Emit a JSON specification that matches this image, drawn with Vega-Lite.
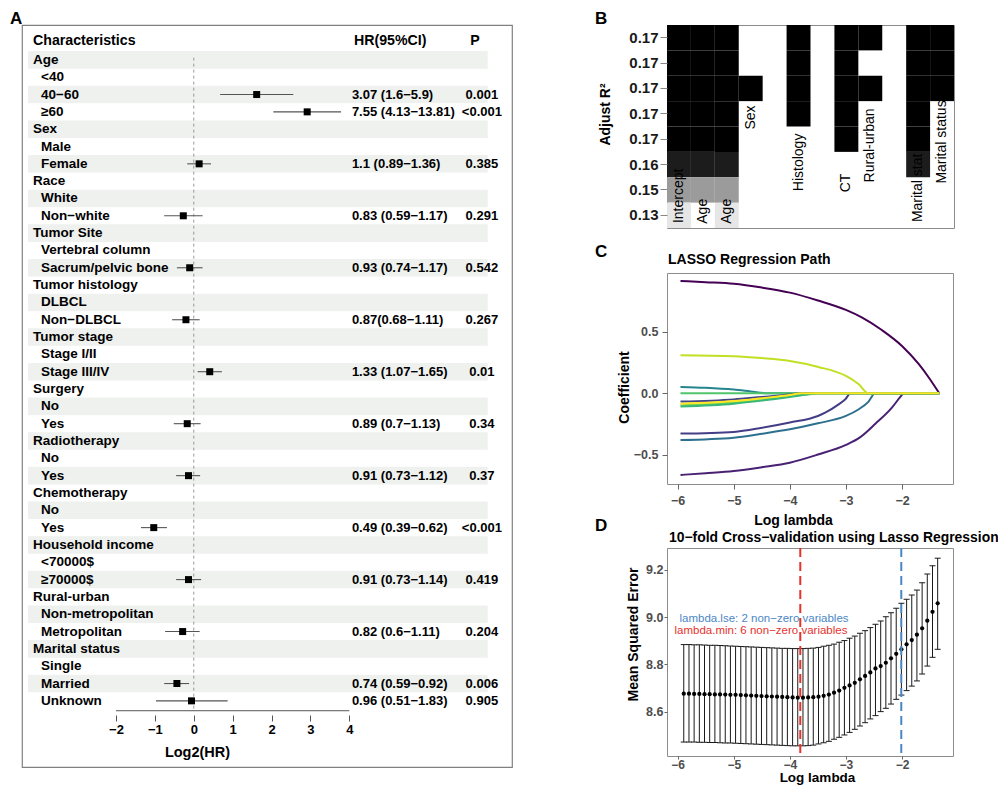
{
 "$schema": "https://vega.github.io/schema/vega-lite/v6.json",
 "background": "white",
 "padding": {"left": 9, "top": 9, "right": 0, "bottom": 0},
 "config": {
  "font": "Liberation Sans",
  "view": {"stroke": "#8c8c8c", "strokeWidth": 1},
  "axis": {"grid": false, "domain": false, "labelFont": "Liberation Sans", "titleFont": "Liberation Sans"},
  "title": {"font": "Liberation Sans"}
 },
 "datasets": {
  "forest": [
   {"row":2,"label":"Age","lvl":0},
   {"row":3,"label":"<40","lvl":1},
   {"row":4,"label":"40−60","lvl":1,"est":1.618,"lo":0.678,"hi":2.561,"hr":"3.07 (1.6−5.9)","p":"0.001"},
   {"row":5,"label":"≥60","lvl":1,"est":2.917,"lo":2.046,"hi":3.788,"hr":"7.55 (4.13−13.81)","p":"<0.001"},
   {"row":6,"label":"Sex","lvl":0},
   {"row":7,"label":"Male","lvl":1},
   {"row":8,"label":"Female","lvl":1,"est":0.138,"lo":-0.168,"hi":0.444,"hr":"1.1 (0.89−1.36)","p":"0.385"},
   {"row":9,"label":"Race","lvl":0},
   {"row":10,"label":"White","lvl":1},
   {"row":11,"label":"Non−white","lvl":1,"est":-0.269,"lo":-0.761,"hi":0.227,"hr":"0.83 (0.59−1.17)","p":"0.291"},
   {"row":12,"label":"Tumor Site","lvl":0},
   {"row":13,"label":"Vertebral column","lvl":1},
   {"row":14,"label":"Sacrum/pelvic bone","lvl":1,"est":-0.105,"lo":-0.434,"hi":0.227,"hr":"0.93 (0.74−1.17)","p":"0.542"},
   {"row":15,"label":"Tumor histology","lvl":0},
   {"row":16,"label":"DLBCL","lvl":1},
   {"row":17,"label":"Non−DLBCL","lvl":1,"est":-0.201,"lo":-0.556,"hi":0.151,"hr":"0.87(0.68−1.11)","p":"0.267"},
   {"row":18,"label":"Tumor stage","lvl":0},
   {"row":19,"label":"Stage I/II","lvl":1},
   {"row":20,"label":"Stage III/IV","lvl":1,"est":0.411,"lo":0.098,"hi":0.723,"hr":"1.33 (1.07−1.65)","p":"0.01"},
   {"row":21,"label":"Surgery","lvl":0},
   {"row":22,"label":"No","lvl":1},
   {"row":23,"label":"Yes","lvl":1,"est":-0.168,"lo":-0.515,"hi":0.176,"hr":"0.89 (0.7−1.13)","p":"0.34"},
   {"row":24,"label":"Radiotherapy","lvl":0},
   {"row":25,"label":"No","lvl":1},
   {"row":26,"label":"Yes","lvl":1,"est":-0.136,"lo":-0.454,"hi":0.164,"hr":"0.91 (0.73−1.12)","p":"0.37"},
   {"row":27,"label":"Chemotherapy","lvl":0},
   {"row":28,"label":"No","lvl":1},
   {"row":29,"label":"Yes","lvl":1,"est":-1.029,"lo":-1.358,"hi":-0.69,"hr":"0.49 (0.39−0.62)","p":"<0.001"},
   {"row":30,"label":"Household income","lvl":0},
   {"row":31,"label":"<70000$","lvl":1},
   {"row":32,"label":"≥70000$","lvl":1,"est":-0.136,"lo":-0.454,"hi":0.189,"hr":"0.91 (0.73−1.14)","p":"0.419"},
   {"row":33,"label":"Rural-urban","lvl":0},
   {"row":34,"label":"Non-metropolitan","lvl":1},
   {"row":35,"label":"Metropolitan","lvl":1,"est":-0.286,"lo":-0.737,"hi":0.151,"hr":"0.82 (0.6−1.11)","p":"0.204"},
   {"row":36,"label":"Marital status","lvl":0},
   {"row":37,"label":"Single","lvl":1},
   {"row":38,"label":"Married","lvl":1,"est":-0.434,"lo":-0.761,"hi":-0.12,"hr":"0.74 (0.59−0.92)","p":"0.006"},
   {"row":39,"label":"Unknown","lvl":1,"est":-0.059,"lo":-0.971,"hi":0.872,"hr":"0.96 (0.51−1.83)","p":"0.905"}
  ],
  "cells": [
   {"col":1,"row":1,"r2":"0.17"},{"col":1,"row":2,"r2":"0.17"},{"col":1,"row":3,"r2":"0.17"},{"col":1,"row":4,"r2":"0.17"},{"col":1,"row":5,"r2":"0.17"},{"col":1,"row":6,"r2":"0.16"},{"col":1,"row":7,"r2":"0.15"},{"col":1,"row":8,"r2":"0.13"},
   {"col":2,"row":1,"r2":"0.17"},{"col":2,"row":2,"r2":"0.17"},{"col":2,"row":3,"r2":"0.17"},{"col":2,"row":4,"r2":"0.17"},{"col":2,"row":5,"r2":"0.17"},{"col":2,"row":6,"r2":"0.16"},{"col":2,"row":7,"r2":"0.15"},
   {"col":3,"row":1,"r2":"0.17"},{"col":3,"row":2,"r2":"0.17"},{"col":3,"row":3,"r2":"0.17"},{"col":3,"row":4,"r2":"0.17"},{"col":3,"row":5,"r2":"0.17"},{"col":3,"row":6,"r2":"0.16"},{"col":3,"row":7,"r2":"0.15"},{"col":3,"row":8,"r2":"0.13"},
   {"col":4,"row":3,"r2":"0.17"},
   {"col":6,"row":1,"r2":"0.17"},{"col":6,"row":2,"r2":"0.17"},{"col":6,"row":3,"r2":"0.17"},{"col":6,"row":4,"r2":"0.17"},
   {"col":8,"row":1,"r2":"0.17"},{"col":8,"row":2,"r2":"0.17"},{"col":8,"row":3,"r2":"0.17"},{"col":8,"row":4,"r2":"0.17"},{"col":8,"row":5,"r2":"0.17"},
   {"col":9,"row":1,"r2":"0.17"},{"col":9,"row":3,"r2":"0.17"},
   {"col":11,"row":1,"r2":"0.17"},{"col":11,"row":2,"r2":"0.17"},{"col":11,"row":3,"r2":"0.17"},{"col":11,"row":4,"r2":"0.17"},{"col":11,"row":5,"r2":"0.17"},{"col":11,"row":6,"r2":"0.16"},
   {"col":12,"row":1,"r2":"0.17"},{"col":12,"row":2,"r2":"0.17"},{"col":12,"row":3,"r2":"0.17"}
  ],
  "blabels": [
   {"col":1,"name":"Intercept","top":5.66},
   {"col":2,"name":"Age","top":6.85},
   {"col":3,"name":"Age","top":6.85},
   {"col":4,"name":"Sex","top":3.17},
   {"col":6,"name":"Histology","top":4.28},
   {"col":8,"name":"CT","top":5.86},
   {"col":9,"name":"Rural-urban","top":3.29},
   {"col":11,"name":"Marital stat","top":5.07},
   {"col":12,"name":"Marital status","top":2.97}
  ],
  "path": [
   {"v":"s01","lam":-5.95,"coef":0.916},{"v":"s01","lam":-5.5,"coef":0.906},{"v":"s01","lam":-5,"coef":0.893},{"v":"s01","lam":-4.5,"coef":0.862},{"v":"s01","lam":-4,"coef":0.821},{"v":"s01","lam":-3.5,"coef":0.757},{"v":"s01","lam":-3,"coef":0.68},{"v":"s01","lam":-2.71,"coef":0.617},{"v":"s01","lam":-2.36,"coef":0.516},{"v":"s01","lam":-2,"coef":0.386},{"v":"s01","lam":-1.7,"coef":0.237},{"v":"s01","lam":-1.52,"coef":0.127},{"v":"s01","lam":-1.335,"coef":0},
   {"v":"s02","lam":-5.95,"coef":-0.666},{"v":"s02","lam":-5.5,"coef":-0.652},{"v":"s02","lam":-5,"coef":-0.634},{"v":"s02","lam":-4.5,"coef":-0.603},{"v":"s02","lam":-4,"coef":-0.566},{"v":"s02","lam":-3.5,"coef":-0.5},{"v":"s02","lam":-3,"coef":-0.421},{"v":"s02","lam":-2.75,"coef":-0.36},{"v":"s02","lam":-2.47,"coef":-0.247},{"v":"s02","lam":-2.18,"coef":-0.117},{"v":"s02","lam":-2.03,"coef":-0.03},{"v":"s02","lam":-1.97,"coef":0},{"v":"s02","lam":-1.335,"coef":0},
   {"v":"s03","lam":-5.95,"coef":-0.329},{"v":"s03","lam":-5,"coef":-0.315},{"v":"s03","lam":-4.5,"coef":-0.282},{"v":"s03","lam":-4,"coef":-0.239},{"v":"s03","lam":-3.5,"coef":-0.185},{"v":"s03","lam":-3.37,"coef":-0.158},{"v":"s03","lam":-3.13,"coef":-0.09},{"v":"s03","lam":-3.01,"coef":-0.049},{"v":"s03","lam":-2.92,"coef":0},{"v":"s03","lam":-1.335,"coef":0},
   {"v":"s04","lam":-5.95,"coef":-0.381},{"v":"s04","lam":-5,"coef":-0.362},{"v":"s04","lam":-4.5,"coef":-0.33},{"v":"s04","lam":-4,"coef":-0.294},{"v":"s04","lam":-3.5,"coef":-0.245},{"v":"s04","lam":-3,"coef":-0.185},{"v":"s04","lam":-2.77,"coef":-0.13},{"v":"s04","lam":-2.6,"coef":-0.07},{"v":"s04","lam":-2.48,"coef":0},{"v":"s04","lam":-1.335,"coef":0},
   {"v":"s05","lam":-5.95,"coef":0.31},{"v":"s05","lam":-5,"coef":0.302},{"v":"s05","lam":-4.5,"coef":0.287},{"v":"s05","lam":-4,"coef":0.264},{"v":"s05","lam":-3.49,"coef":0.215},{"v":"s05","lam":-3,"coef":0.141},{"v":"s05","lam":-2.77,"coef":0.073},{"v":"s05","lam":-2.6,"coef":0},{"v":"s05","lam":-1.335,"coef":0},
   {"v":"s06","lam":-5.95,"coef":0.052},{"v":"s06","lam":-5.5,"coef":0.045},{"v":"s06","lam":-5,"coef":0.03},{"v":"s06","lam":-4.7,"coef":0.015},{"v":"s06","lam":-4.4,"coef":0},{"v":"s06","lam":-1.335,"coef":0},
   {"v":"s07","lam":-5.95,"coef":0},{"v":"s07","lam":-1.335,"coef":0},
   {"v":"s08","lam":-5.95,"coef":-0.068},{"v":"s08","lam":-5,"coef":-0.05},{"v":"s08","lam":-4.5,"coef":-0.03},{"v":"s08","lam":-4,"coef":-0.01},{"v":"s08","lam":-3.8,"coef":0},{"v":"s08","lam":-1.335,"coef":0},
   {"v":"s09","lam":-5.95,"coef":-0.098},{"v":"s09","lam":-5,"coef":-0.075},{"v":"s09","lam":-4.5,"coef":-0.052},{"v":"s09","lam":-4,"coef":-0.025},{"v":"s09","lam":-3.6,"coef":-0.005},{"v":"s09","lam":-3.5,"coef":0},{"v":"s09","lam":-1.335,"coef":0},
   {"v":"s10","lam":-5.95,"coef":-0.108},{"v":"s10","lam":-5,"coef":-0.085},{"v":"s10","lam":-4.5,"coef":-0.06},{"v":"s10","lam":-4,"coef":-0.03},{"v":"s10","lam":-3.7,"coef":-0.01},{"v":"s10","lam":-3.5,"coef":0},{"v":"s10","lam":-1.335,"coef":0},
   {"v":"s11","lam":-5.95,"coef":-0.085},{"v":"s11","lam":-5,"coef":-0.064},{"v":"s11","lam":-4.5,"coef":-0.04},{"v":"s11","lam":-4,"coef":-0.014},{"v":"s11","lam":-3.8,"coef":0},{"v":"s11","lam":-1.335,"coef":0}
  ],
  "cv": [
   {"lam":-1.364,"mse":9.059,"lo":8.864,"hi":9.25},
   {"lam":-1.456,"mse":9.023,"lo":8.83,"hi":9.218},
   {"lam":-1.549,"mse":8.985,"lo":8.793,"hi":9.183},
   {"lam":-1.641,"mse":8.953,"lo":8.759,"hi":9.146},
   {"lam":-1.734,"mse":8.926,"lo":8.73,"hi":9.115},
   {"lam":-1.826,"mse":8.903,"lo":8.708,"hi":9.094},
   {"lam":-1.918,"mse":8.885,"lo":8.689,"hi":9.076},
   {"lam":-2.011,"mse":8.864,"lo":8.67,"hi":9.059},
   {"lam":-2.103,"mse":8.845,"lo":8.652,"hi":9.038},
   {"lam":-2.196,"mse":8.826,"lo":8.632,"hi":9.019},
   {"lam":-2.288,"mse":8.807,"lo":8.614,"hi":9.002},
   {"lam":-2.38,"mse":8.793,"lo":8.6,"hi":8.984},
   {"lam":-2.473,"mse":8.783,"lo":8.583,"hi":8.97},
   {"lam":-2.565,"mse":8.766,"lo":8.569,"hi":8.956},
   {"lam":-2.658,"mse":8.751,"lo":8.553,"hi":8.943},
   {"lam":-2.75,"mse":8.737,"lo":8.539,"hi":8.932},
   {"lam":-2.842,"mse":8.722,"lo":8.525,"hi":8.92},
   {"lam":-2.935,"mse":8.711,"lo":8.512,"hi":8.911},
   {"lam":-3.027,"mse":8.701,"lo":8.501,"hi":8.901},
   {"lam":-3.12,"mse":8.689,"lo":8.491,"hi":8.894},
   {"lam":-3.212,"mse":8.68,"lo":8.483,"hi":8.886},
   {"lam":-3.304,"mse":8.672,"lo":8.474,"hi":8.881},
   {"lam":-3.397,"mse":8.667,"lo":8.468,"hi":8.877},
   {"lam":-3.489,"mse":8.663,"lo":8.463,"hi":8.872},
   {"lam":-3.582,"mse":8.661,"lo":8.458,"hi":8.869},
   {"lam":-3.674,"mse":8.66,"lo":8.456,"hi":8.868},
   {"lam":-3.766,"mse":8.659,"lo":8.455,"hi":8.867},
   {"lam":-3.859,"mse":8.659,"lo":8.455,"hi":8.867},
   {"lam":-3.951,"mse":8.66,"lo":8.455,"hi":8.867},
   {"lam":-4.044,"mse":8.661,"lo":8.456,"hi":8.868},
   {"lam":-4.136,"mse":8.662,"lo":8.457,"hi":8.868},
   {"lam":-4.228,"mse":8.663,"lo":8.458,"hi":8.869},
   {"lam":-4.321,"mse":8.664,"lo":8.459,"hi":8.87},
   {"lam":-4.413,"mse":8.665,"lo":8.46,"hi":8.871},
   {"lam":-4.506,"mse":8.666,"lo":8.461,"hi":8.872},
   {"lam":-4.598,"mse":8.667,"lo":8.462,"hi":8.873},
   {"lam":-4.69,"mse":8.668,"lo":8.463,"hi":8.874},
   {"lam":-4.783,"mse":8.669,"lo":8.464,"hi":8.875},
   {"lam":-4.875,"mse":8.67,"lo":8.465,"hi":8.876},
   {"lam":-4.968,"mse":8.671,"lo":8.466,"hi":8.877},
   {"lam":-5.06,"mse":8.671,"lo":8.467,"hi":8.878},
   {"lam":-5.152,"mse":8.672,"lo":8.467,"hi":8.879},
   {"lam":-5.245,"mse":8.673,"lo":8.468,"hi":8.88},
   {"lam":-5.337,"mse":8.673,"lo":8.469,"hi":8.881},
   {"lam":-5.43,"mse":8.674,"lo":8.469,"hi":8.881},
   {"lam":-5.522,"mse":8.674,"lo":8.47,"hi":8.882},
   {"lam":-5.614,"mse":8.675,"lo":8.47,"hi":8.883},
   {"lam":-5.707,"mse":8.675,"lo":8.471,"hi":8.883},
   {"lam":-5.799,"mse":8.676,"lo":8.471,"hi":8.884},
   {"lam":-5.892,"mse":8.676,"lo":8.471,"hi":8.884}
  ]
 },
 "spacing": 81,
 "resolve": {"scale": {"color": "independent"}},
 "hconcat": [
  {
   "width": 490, "height": 742,
   "title": {"text": "A", "anchor": "start", "frame": "group", "dx": -12, "dy": 16, "offset": 0, "baseline": "alphabetic", "fontSize": 17, "fontWeight": "bold", "color": "#000"},
   "view": {"stroke": "#808080", "strokeWidth": 1.2},
   "layer": [
    {
     "data": {"name": "forest"},
     "transform": [{"filter": "datum.row % 2 == 0"}],
     "mark": {"type": "bar", "height": 17.56, "color": "#eef1ee", "orient": "horizontal"},
     "encoding": {
      "x": {"datum": -4.264, "scale": {"domain": [-4.418, 8.185], "nice": false, "zero": false}},
      "x2": {"datum": 7.56},
      "y": {"field": "row", "type": "quantitative", "scale": {"domain": [0.2745, 42.53], "reverse": true, "nice": false, "zero": false}, "axis": null}
     }
    },
    {
     "data": {"name": "forest"},
     "transform": [{"filter": "datum.row == 2"}],
     "mark": {"type": "rule", "color": "#999999", "strokeDash": [3, 3], "strokeWidth": 1},
     "encoding": {
      "x": {"datum": 0, "scale": {"domain": [-4.418, 8.185], "nice": false, "zero": false}},
      "y": {"datum": 1.87, "scale": {"domain": [0.2745, 42.53], "reverse": true, "nice": false, "zero": false}, "axis": null},
      "y2": {"datum": 39.45}
     }
    },
    {
     "data": {"name": "forest"},
     "transform": [{"filter": "datum.row == 2"}],
     "mark": {"type": "rule", "color": "#555555", "strokeWidth": 1},
     "encoding": {
      "x": {"datum": -2, "scale": {"domain": [-4.418, 8.185], "nice": false, "zero": false}},
      "x2": {"datum": 4},
      "y": {"datum": 39.57, "scale": {"domain": [0.2745, 42.53], "reverse": true, "nice": false, "zero": false}, "axis": null}
     }
    },
    {
     "data": {"name": "forest"},
     "transform": [{"filter": "isValid(datum.est)"}],
     "mark": {"type": "rule", "color": "#555555", "strokeWidth": 1.1},
     "encoding": {
      "x": {"field": "lo", "type": "quantitative", "scale": {"domain": [-4.418, 8.185], "nice": false, "zero": false},
            "axis": {"values": [-2, -1, 0, 1, 2, 3, 4], "format": "d", "offset": -52, "tickSize": 6, "tickColor": "#555555", "labelFontSize": 13, "labelFontWeight": "bold", "labelColor": "#000", "labelPadding": 2, "title": "Log2(HR)", "titleFontSize": 14.5, "titleFontWeight": "bold", "titleColor": "#000", "titleX": 175, "titleY": 37, "titleBaseline": "middle"}},
      "x2": {"field": "hi"},
      "y": {"field": "row", "type": "quantitative", "scale": {"domain": [0.2745, 42.53], "reverse": true, "nice": false, "zero": false}, "axis": null}
     }
    },
    {
     "data": {"name": "forest"},
     "transform": [{"filter": "isValid(datum.est)"}],
     "mark": {"type": "point", "shape": "square", "filled": true, "size": 49, "color": "#000", "opacity": 1},
     "encoding": {
      "x": {"field": "est", "type": "quantitative", "scale": {"domain": [-4.418, 8.185], "nice": false, "zero": false}},
      "y": {"field": "row", "type": "quantitative", "scale": {"domain": [0.2745, 42.53], "reverse": true, "nice": false, "zero": false}, "axis": null}
     }
    },
    {
     "data": {"name": "forest"},
     "transform": [{"filter": "datum.lvl == 0"}],
     "mark": {"type": "text", "align": "left", "baseline": "middle", "fontSize": 13.5, "fontWeight": "bold", "color": "#000"},
     "encoding": {
      "x": {"datum": -4.135, "scale": {"domain": [-4.418, 8.185], "nice": false, "zero": false}},
      "y": {"field": "row", "type": "quantitative", "scale": {"domain": [0.2745, 42.53], "reverse": true, "nice": false, "zero": false}, "axis": null},
      "text": {"field": "label"}
     }
    },
    {
     "data": {"name": "forest"},
     "transform": [{"filter": "datum.lvl == 1"}],
     "mark": {"type": "text", "align": "left", "baseline": "middle", "fontSize": 13.5, "fontWeight": "bold", "color": "#000"},
     "encoding": {
      "x": {"datum": -3.929, "scale": {"domain": [-4.418, 8.185], "nice": false, "zero": false}},
      "y": {"field": "row", "type": "quantitative", "scale": {"domain": [0.2745, 42.53], "reverse": true, "nice": false, "zero": false}, "axis": null},
      "text": {"field": "label"}
     }
    },
    {
     "data": {"name": "forest"},
     "transform": [{"filter": "isValid(datum.hr)"}],
     "mark": {"type": "text", "align": "left", "baseline": "middle", "fontSize": 13, "fontWeight": "bold", "color": "#000"},
     "encoding": {
      "x": {"datum": 4.067, "scale": {"domain": [-4.418, 8.185], "nice": false, "zero": false}},
      "y": {"field": "row", "type": "quantitative", "scale": {"domain": [0.2745, 42.53], "reverse": true, "nice": false, "zero": false}, "axis": null},
      "text": {"field": "hr"}
     }
    },
    {
     "data": {"name": "forest"},
     "transform": [{"filter": "isValid(datum.p)"}],
     "mark": {"type": "text", "align": "center", "baseline": "middle", "fontSize": 13, "fontWeight": "bold", "color": "#000"},
     "encoding": {
      "x": {"datum": 7.41, "scale": {"domain": [-4.418, 8.185], "nice": false, "zero": false}},
      "y": {"field": "row", "type": "quantitative", "scale": {"domain": [0.2745, 42.53], "reverse": true, "nice": false, "zero": false}, "axis": null},
      "text": {"field": "p"}
     }
    },
    {
     "data": {"name": "forest"},
     "transform": [{"filter": "datum.row == 2"}],
     "mark": {"type": "text", "text": "Characteristics", "align": "left", "baseline": "middle", "fontSize": 14.2, "fontWeight": "bold", "color": "#000"},
     "encoding": {
      "x": {"datum": -4.135, "scale": {"domain": [-4.418, 8.185], "nice": false, "zero": false}},
      "y": {"datum": 0.9, "scale": {"domain": [0.2745, 42.53], "reverse": true, "nice": false, "zero": false}, "axis": null}
     }
    },
    {
     "data": {"name": "forest"},
     "transform": [{"filter": "datum.row == 2"}],
     "mark": {"type": "text", "text": "HR(95%CI)", "align": "left", "baseline": "middle", "fontSize": 14.2, "fontWeight": "bold", "color": "#000"},
     "encoding": {
      "x": {"datum": 4.12, "scale": {"domain": [-4.418, 8.185], "nice": false, "zero": false}},
      "y": {"datum": 0.9, "scale": {"domain": [0.2745, 42.53], "reverse": true, "nice": false, "zero": false}, "axis": null}
     }
    },
    {
     "data": {"name": "forest"},
     "transform": [{"filter": "datum.row == 2"}],
     "mark": {"type": "text", "text": "P", "align": "center", "baseline": "middle", "fontSize": 14.2, "fontWeight": "bold", "color": "#000"},
     "encoding": {
      "x": {"datum": 7.23, "scale": {"domain": [-4.418, 8.185], "nice": false, "zero": false}},
      "y": {"datum": 0.9, "scale": {"domain": [0.2745, 42.53], "reverse": true, "nice": false, "zero": false}, "axis": null}
     }
    }
   ]
  },
  {
   "spacing": 13,
   "resolve": {"scale": {"color": "independent"}},
   "vconcat": [
    {
     "width": 287, "height": 203,
     "title": {"text": "B", "anchor": "start", "frame": "group", "dx": -72, "dy": 16, "offset": 0, "baseline": "alphabetic", "fontSize": 17, "fontWeight": "bold", "color": "#000"},
     "view": {"stroke": "#8c8c8c"},
     "layer": [
      {
       "data": {"name": "cells"},
       "mark": {"type": "rect"},
       "encoding": {
        "x": {"field": "col", "type": "ordinal", "scale": {"domain": [1,2,3,4,5,6,7,8,9,10,11,12], "paddingInner": 0, "paddingOuter": 0}, "axis": null},
        "y": {"field": "row", "type": "ordinal", "scale": {"domain": [1,2,3,4,5,6,7,8], "paddingInner": 0, "paddingOuter": 0},
              "axis": {"labelExpr": "datum.value <= 5 ? '0.17' : (datum.value == 6 ? '0.16' : (datum.value == 7 ? '0.15' : '0.13'))", "labelFontSize": 15, "labelFontWeight": "bold", "labelColor": "#1a1a1a", "tickColor": "#888888", "tickSize": 7, "labelPadding": 2, "title": "Adjust R²", "titleFontSize": 14, "titleFontWeight": "bold", "titleColor": "#000", "titleX": -62, "titleY": 89, "titleBaseline": "middle", "titleAngle": 270}},
        "color": {"field": "r2", "type": "nominal", "scale": {"domain": ["0.17", "0.16", "0.15", "0.13"], "range": ["#000000", "#1c1c1c", "#9b9b9b", "#e6e6e6"]}, "legend": null}
       }
      },
      {
       "data": {"name": "blabels"},
       "mark": {"type": "text", "angle": 270, "align": "right", "baseline": "middle", "fontSize": 14, "color": "#000"},
       "encoding": {
        "x": {"field": "col", "type": "ordinal"},
        "y": {"field": "top", "type": "quantitative", "scale": {"domain": [0, 8], "reverse": true, "nice": false, "zero": false}, "axis": null},
        "text": {"field": "name"}
       }
      }
     ],
     "resolve": {"scale": {"y": "independent"}, "axis": {"y": "independent"}}
    },
    {
     "spacing": -12,
     "resolve": {"scale": {"color": "independent"}},
     "vconcat": [
      {
       "width": 286, "height": 211,
       "view": {"stroke": "#8c8c8c"},
       "layer": [
        {
         "data": {"name": "path"},
         "transform": [{"filter": "datum.v != 's11'"}],
         "mark": {"type": "line", "strokeWidth": 2, "interpolate": "monotone"},
         "encoding": {
          "x": {"field": "lam", "type": "quantitative", "scale": {"domain": [-6.1908, -1.0906], "nice": false, "zero": false},
                "axis": {"values": [-6, -5, -4, -3, -2], "format": "d", "tickSize": 5, "tickColor": "#666666", "labelFontSize": 12.5, "labelFontWeight": "bold", "labelColor": "#4d4d4d", "labelPadding": 5, "title": "Log lambda", "titleFontSize": 14, "titleFontWeight": "bold", "titleColor": "#000", "titleX": 126, "titleY": 40, "titleBaseline": "alphabetic"}},
          "y": {"field": "coef", "type": "quantitative", "scale": {"domain": [-0.74, 0.981], "nice": false, "zero": false},
                "axis": {"values": [-0.5, 0, 0.5], "format": ".1f", "tickSize": 5, "tickColor": "#666666", "labelFontSize": 12.5, "labelFontWeight": "bold", "labelColor": "#4d4d4d", "labelPadding": 4, "title": "Coefficient", "titleFontSize": 14, "titleFontWeight": "bold", "titleColor": "#000", "titleX": -43, "titleY": 114, "titleBaseline": "middle", "titleAngle": 270}},
          "color": {"field": "v", "type": "nominal", "scale": {"domain": ["s01","s02","s03","s04","s05","s06","s07","s08","s09","s10","s11"], "range": ["#440154","#482173","#433E85","#2D708E","#C2DF23","#25858E","#51C56A","#414487","#7AD151","#35B779","#FDE725"]}, "legend": null}
         }
        },
        {
         "data": {"name": "path"},
         "transform": [{"filter": "datum.v == 's11'"}],
         "mark": {"type": "line", "strokeWidth": 2, "interpolate": "monotone"},
         "encoding": {
          "x": {"field": "lam", "type": "quantitative", "scale": {"domain": [-6.1908, -1.0906], "nice": false, "zero": false}},
          "y": {"field": "coef", "type": "quantitative", "scale": {"domain": [-0.74, 0.981], "nice": false, "zero": false}},
          "color": {"field": "v", "type": "nominal", "scale": {"domain": ["s01","s02","s03","s04","s05","s06","s07","s08","s09","s10","s11"], "range": ["#440154","#482173","#433E85","#2D708E","#C2DF23","#25858E","#51C56A","#414487","#7AD151","#35B779","#FDE725"]}, "legend": null}
         }
        },
        {
         "data": {"values": [{}]},
         "mark": {"type": "text", "text": "C", "align": "left", "baseline": "alphabetic", "fontSize": 17, "fontWeight": "bold", "color": "#000"},
         "encoding": {"x": {"datum": -7.4747, "scale": {"domain": [-6.1908, -1.0906], "nice": false, "zero": false}}, "y": {"datum": 1.1118, "scale": {"domain": [-0.74, 0.981], "nice": false, "zero": false}}}
        },
        {
         "data": {"values": [{}]},
         "mark": {"type": "text", "text": "LASSO Regression Path", "align": "left", "baseline": "alphabetic", "fontSize": 14, "fontWeight": "bold", "color": "#000"},
         "encoding": {"x": {"datum": -6.173, "scale": {"domain": [-6.1908, -1.0906], "nice": false, "zero": false}}, "y": {"datum": 1.0546, "scale": {"domain": [-0.74, 0.981], "nice": false, "zero": false}}}
        }
       ]
      },
      {
       "width": 286, "height": 208,
       "view": {"stroke": "#8c8c8c"},
       "data": {"name": "cv"},
       "layer": [
        {
         "mark": {"type": "rule", "color": "#1a1a1a", "strokeWidth": 1},
         "encoding": {
          "x": {"field": "lam", "type": "quantitative", "scale": {"domain": [-6.1908, -1.0906], "nice": false, "zero": false},
                "axis": {"values": [-6, -5, -4, -3, -2], "format": "d", "tickSize": 3, "tickColor": "#666666", "labelFontSize": 12, "labelFontWeight": "bold", "labelColor": "#4d4d4d", "labelPadding": 0, "title": "Log lambda", "titleFontSize": 13.5, "titleFontWeight": "bold", "titleColor": "#000", "titleX": 150, "titleY": 25.5, "titleBaseline": "alphabetic"}},
          "y": {"field": "lo", "type": "quantitative", "scale": {"domain": [8.4119, 9.2932], "nice": false, "zero": false},
                "axis": {"values": [8.6, 8.8, 9.0, 9.2], "format": ".1f", "tickSize": 3, "tickColor": "#666666", "labelFontSize": 12.5, "labelFontWeight": "bold", "labelColor": "#4d4d4d", "labelPadding": 1, "title": "Mean Squared Error", "titleFontSize": 14, "titleFontWeight": "bold", "titleColor": "#000", "titleX": -34, "titleY": 86, "titleBaseline": "middle", "titleAngle": 270}},
          "y2": {"field": "hi"}
         }
        },
        {
         "mark": {"type": "tick", "orient": "horizontal", "size": 6, "thickness": 1, "color": "#1a1a1a", "opacity": 1},
         "encoding": {
          "x": {"field": "lam", "type": "quantitative", "scale": {"domain": [-6.1908, -1.0906], "nice": false, "zero": false}},
          "y": {"field": "lo", "type": "quantitative", "scale": {"domain": [8.4119, 9.2932], "nice": false, "zero": false}}
         }
        },
        {
         "mark": {"type": "tick", "orient": "horizontal", "size": 6, "thickness": 1, "color": "#1a1a1a", "opacity": 1},
         "encoding": {
          "x": {"field": "lam", "type": "quantitative", "scale": {"domain": [-6.1908, -1.0906], "nice": false, "zero": false}},
          "y": {"field": "hi", "type": "quantitative", "scale": {"domain": [8.4119, 9.2932], "nice": false, "zero": false}}
         }
        },
        {
         "mark": {"type": "circle", "size": 18, "color": "#000", "opacity": 1},
         "encoding": {
          "x": {"field": "lam", "type": "quantitative", "scale": {"domain": [-6.1908, -1.0906], "nice": false, "zero": false}},
          "y": {"field": "mse", "type": "quantitative", "scale": {"domain": [8.4119, 9.2932], "nice": false, "zero": false}}
         }
        },
        {
         "data": {"values": [{}]},
         "mark": {"type": "rule", "color": "#e6322b", "strokeWidth": 2, "strokeDash": [9, 5]},
         "encoding": {"x": {"datum": -3.814, "scale": {"domain": [-6.1908, -1.0906], "nice": false, "zero": false}}}
        },
        {
         "data": {"values": [{}]},
         "mark": {"type": "rule", "color": "#4b87c6", "strokeWidth": 2, "strokeDash": [9, 5]},
         "encoding": {"x": {"datum": -2.013, "scale": {"domain": [-6.1908, -1.0906], "nice": false, "zero": false}}}
        },
        {
         "data": {"values": [{}]},
         "mark": {"type": "text", "text": "lambda.lse: 2 non−zero variables", "align": "center", "baseline": "middle", "fontSize": 11.5, "color": "#4b87c6"},
         "encoding": {"x": {"datum": -4.461, "scale": {"domain": [-6.1908, -1.0906], "nice": false, "zero": false}}, "y": {"datum": 8.992, "scale": {"domain": [8.4119, 9.2932], "nice": false, "zero": false}}}
        },
        {
         "data": {"values": [{}]},
         "mark": {"type": "text", "text": "lambda.min: 6 non−zero variables", "align": "center", "baseline": "middle", "fontSize": 11.5, "color": "#e6322b"},
         "encoding": {"x": {"datum": -4.515, "scale": {"domain": [-6.1908, -1.0906], "nice": false, "zero": false}}, "y": {"datum": 8.942, "scale": {"domain": [8.4119, 9.2932], "nice": false, "zero": false}}}
        },
        {
         "data": {"values": [{}]},
         "mark": {"type": "text", "text": "D", "align": "left", "baseline": "alphabetic", "fontSize": 17, "fontWeight": "bold", "color": "#000"},
         "encoding": {"x": {"datum": -7.4747, "scale": {"domain": [-6.1908, -1.0906], "nice": false, "zero": false}}, "y": {"datum": 9.3653, "scale": {"domain": [8.4119, 9.2932], "nice": false, "zero": false}}}
        },
        {
         "data": {"values": [{}]},
         "mark": {"type": "text", "text": "10−fold Cross−validation using Lasso Regression", "align": "left", "baseline": "alphabetic", "fontSize": 13.9, "fontWeight": "bold", "color": "#000"},
         "encoding": {"x": {"datum": -6.155, "scale": {"domain": [-6.1908, -1.0906], "nice": false, "zero": false}}, "y": {"datum": 9.3186, "scale": {"domain": [8.4119, 9.2932], "nice": false, "zero": false}}}
        }
       ]
      }
     ]
    }
   ]
  }
 ]
}
